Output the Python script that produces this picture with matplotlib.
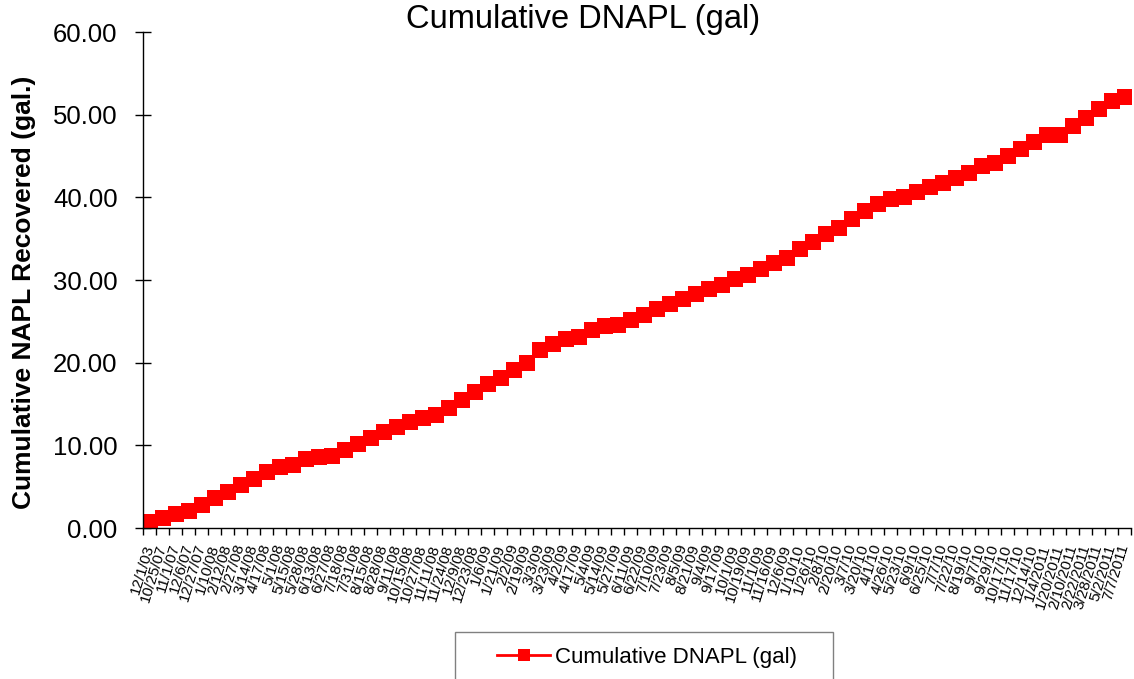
import numpy as np
import matplotlib
matplotlib.use('Agg')
import matplotlib.pyplot as plt
from matplotlib.patches import Rectangle
from matplotlib.ticker import FixedLocator, FormatStrFormatter

plt.rcParams['font.family'] = ['Liberation Sans', 'DejaVu Sans']

dates = ['12/1/03', '10/25/07', '11/1/07', '12/6/07', '12/27/07', '1/10/08', '2/12/08',
         '2/27/08', '3/14/08', '4/17/08', '5/1/08', '5/15/08', '5/28/08', '6/13/08',
         '6/27/08', '7/18/08', '7/31/08', '8/15/08', '8/28/08', '9/11/08', '10/15/08',
         '10/27/08', '11/11/08', '11/24/08', '12/9/08', '12/23/08', '1/6/09', '1/21/09',
         '2/2/09', '2/19/09', '3/3/09', '3/23/09', '4/2/09', '4/17/09', '5/4/09',
         '5/14/09', '5/27/09', '6/11/09', '6/22/09', '7/10/09', '7/23/09', '8/5/09',
         '8/21/09', '9/4/09', '9/17/09', '10/1/09', '10/19/09', '11/1/09', '11/16/09',
         '12/6/09', '1/10/10', '1/26/10', '2/8/10', '2/20/10', '3/7/10', '3/20/10',
         '4/1/10', '4/26/10', '5/23/10', '6/9/10', '6/25/10', '7/7/10', '7/22/10',
         '8/19/10', '9/7/10', '9/29/10', '10/17/10', '11/17/10', '12/14/10', '1/4/2011',
         '1/20/2011', '2/10/2011', '2/22/2011', '3/28/2011', '5/2/2011', '7/7/2011']

cum_dnapl = [0.73, 1.25, 1.65, 2.1, 2.8, 3.6, 4.4, 5.2, 5.9, 6.8,
             7.4, 7.6, 8.4, 8.55, 8.75, 9.4, 10.2, 10.85, 11.57, 12.26,
             12.86, 13.27, 13.67, 14.47, 15.5, 16.5, 17.4, 18.2, 19.1, 20.0,
             21.5, 22.25, 22.85, 23.1, 23.95, 24.4, 24.5, 25.15, 25.8, 26.5,
             27.1, 27.7, 28.3, 28.9, 29.4, 30.1, 30.6, 31.3, 32.0, 32.7,
             33.7, 34.55, 35.55, 36.35, 37.4, 38.4, 39.2, 39.8, 40.1, 40.6,
             41.2, 41.7, 42.3, 42.95, 43.75, 44.15, 44.95, 45.9, 46.7, 47.5,
             47.5, 48.65, 49.6, 50.7, 51.6, 52.1]

x = np.arange(len(dates))

fig = plt.figure(figsize=(11.34, 6.79), dpi=100)
ax = fig.add_axes([143.3 / 1134, 1 - 528 / 679, (1131 - 143.3) / 1134, 496 / 679])

line, = ax.plot(x, cum_dnapl, '-s', color='#ff0000', markersize=11, linewidth=2,
                markeredgewidth=0, label='Cumulative DNAPL (gal)')

ax.set_xlim(-0.5, len(dates) - 0.5)
ax.set_ylim(0, 60)
ax.set_yticks(np.arange(0, 61, 10))
ax.yaxis.set_major_formatter(FormatStrFormatter('%.2f'))
ax.tick_params(axis='y', direction='inout', length=12, width=1, pad=12.5, labelsize=18.5)

ax.set_xticks(x)
ax.set_xticklabels(dates, rotation=73, ha='right', va='center', rotation_mode='anchor',
                   fontsize=11)
ax.xaxis.set_minor_locator(FixedLocator(np.arange(len(dates) + 1) - 0.5))
ax.tick_params(axis='x', which='major', length=0, pad=12)
ax.tick_params(axis='x', which='minor', direction='out', length=5, width=1)

for side in ['top', 'right']:
    ax.spines[side].set_visible(False)
for side in ['left', 'bottom']:
    ax.spines[side].set_linewidth(1)

fig.text(583 / 1134, 1 - 28 / 679, 'Cumulative DNAPL (gal)', ha='center', va='baseline',
         fontsize=23.5)
fig.text(24 / 1134, 1 - 292 / 679, 'Cumulative NAPL Recovered (gal.)', rotation=90,
         ha='center', va='center', fontsize=19, fontweight='bold')

# legend box drawn separately so the padding matches the original
fig.patches.append(Rectangle((455 / 1134, -0.02), 378 / 1134, 0.02 + 47 / 679,
                             transform=fig.transFigure, facecolor='white',
                             edgecolor='#808080', linewidth=1))
leg = fig.legend(handles=[line], loc='center left',
                 bbox_to_anchor=(497 / 1134, 1 - 657 / 679),
                 fontsize=16, frameon=False, borderpad=0, borderaxespad=0,
                 handlelength=2.39, handletextpad=0.22, markerscale=0.75)

fig.savefig('out.png', dpi=100)
